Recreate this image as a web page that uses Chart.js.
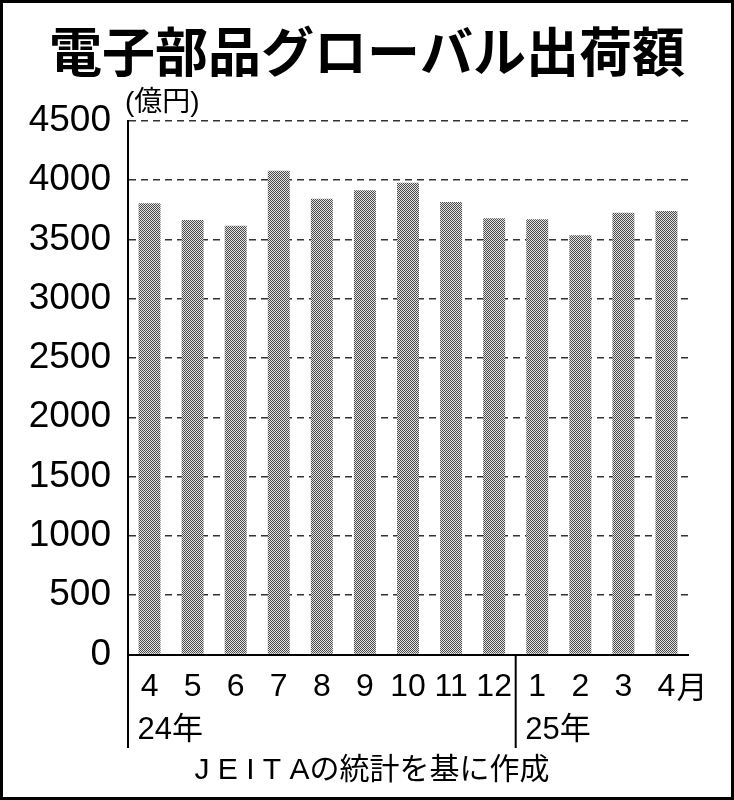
<!DOCTYPE html>
<html>
<head>
<meta charset="utf-8">
<script src="https://cdn.jsdelivr.net/npm/chart.js@4"></script>
<style>
  html, body { margin: 0; padding: 0; background: #fff; }
  #wrap { width: 734px; height: 800px; }
</style>
</head>
<body>
<div id="wrap"><canvas id="shipChart" width="734" height="800"></canvas></div>
<script>
// data (億円)
const months = ['4', '5', '6', '7', '8', '9', '10', '11', '12', '1', '2', '3', '4'];
const shipments = [3804, 3663, 3615, 4078, 3842, 3913, 3977, 3815, 3677, 3669, 3534, 3724, 3739];
const yearLabels = ['24年', '25年'];
const yearStart = [0, 9];
const yMax = 4500;
const yStep = 500;

const titleText = '電子部品グローバル出荷額';
const unitText = '(億円)';
const sourceText = 'J E I T Aの統計を基に作成';
const monthSuffix = '月';

const LATIN = '"Liberation Sans", Arial, sans-serif';
const CJK = '"Liberation Sans", "Noto Sans CJK JP", sans-serif';

// fine checker screen like the printed bars
function makeScreen(ctx) {
  const tile = document.createElement('canvas');
  tile.width = 2;
  tile.height = 2;
  const g = tile.getContext('2d');
  g.fillStyle = '#e4e4e4';
  g.fillRect(0, 0, 2, 2);
  g.fillStyle = '#4a4a4a';
  g.fillRect(0, 0, 1, 1);
  g.fillRect(1, 1, 1, 1);
  return ctx.createPattern(tile, 'repeat');
}

// texts, year labels, dividers and frame
const extras = {
  id: 'extras',
  afterDraw(chart) {
    const ctx = chart.ctx;
    const x = chart.scales.x;
    const area = chart.chartArea;
    const lowEnd = 748;

    ctx.save();
    ctx.fillStyle = '#000';
    ctx.strokeStyle = '#000';

    // title
    ctx.font = 'bold 53px "Noto Sans CJK JP", sans-serif';
    ctx.textAlign = 'center';
    ctx.textBaseline = 'middle';
    ctx.fillText(titleText, 367, 52);

    // unit
    ctx.font = '28px ' + CJK;
    ctx.textAlign = 'left';
    ctx.fillText(unitText, 125, 103);

    // 月 after last month label
    const lastX = x.getPixelForValue(months.length - 1);
    ctx.font = '31px "Noto Sans CJK JP", sans-serif';
    ctx.fillText(monthSuffix, lastX + 10, 686);

    // year labels
    ctx.font = '31px ' + CJK;
    yearLabels.forEach((lab, i) => {
      const cx = x.getPixelForValue(yearStart[i]);
      ctx.fillText(lab, cx - 12, 730);
    });

    // axis extension and year divider
    ctx.lineWidth = 2;
    ctx.beginPath();
    ctx.moveTo(area.left, area.bottom);
    ctx.lineTo(area.left, lowEnd);
    const div = (x.getPixelForValue(yearStart[1] - 1) + x.getPixelForValue(yearStart[1])) / 2;
    ctx.moveTo(div, area.bottom);
    ctx.lineTo(div, lowEnd);
    ctx.stroke();

    // source
    ctx.font = '30px ' + CJK;
    ctx.textAlign = 'center';
    ctx.fillText(sourceText, 372, 771);

    // frame
    ctx.lineWidth = 3;
    ctx.strokeRect(1.5, 1.5, 731, 797);
    ctx.restore();
  }
};

const canvas = document.getElementById('shipChart');
const ctx = canvas.getContext('2d');

new Chart(ctx, {
  type: 'bar',
  data: {
    labels: months,
    datasets: [{
      data: shipments,
      backgroundColor: makeScreen(ctx),
      borderWidth: 0,
      categoryPercentage: 1,
      barPercentage: 0.51
    }]
  },
  options: {
    responsive: false,
    animation: false,
    devicePixelRatio: 1,
    layout: { padding: { top: 120.7, right: 46, left: 0, bottom: 0 } },
    plugins: {
      legend: { display: false },
      tooltip: { enabled: false }
    },
    scales: {
      x: {
        grid: { display: false, drawTicks: false },
        border: { display: true, color: '#000', width: 2 },
        ticks: {
          color: '#000',
          font: { family: LATIN, size: 32 },
          padding: 13,
          maxRotation: 0,
          autoSkip: false
        },
        afterFit(scale) { scale.height = 800 - 654.5; }
      },
      y: {
        min: 0,
        max: yMax,
        ticks: {
          stepSize: yStep,
          color: '#000',
          font: { family: LATIN, size: 37 },
          padding: 17,
          callback: (v) => String(v)
        },
        grid: { color: '#333', lineWidth: 1.5, drawTicks: false },
        border: { display: true, color: '#000', width: 2, dash: [7, 5] },
        afterFit(scale) { scale.width = 128; }
      }
    }
  },
  plugins: [extras]
});
</script>
</body>
</html>
